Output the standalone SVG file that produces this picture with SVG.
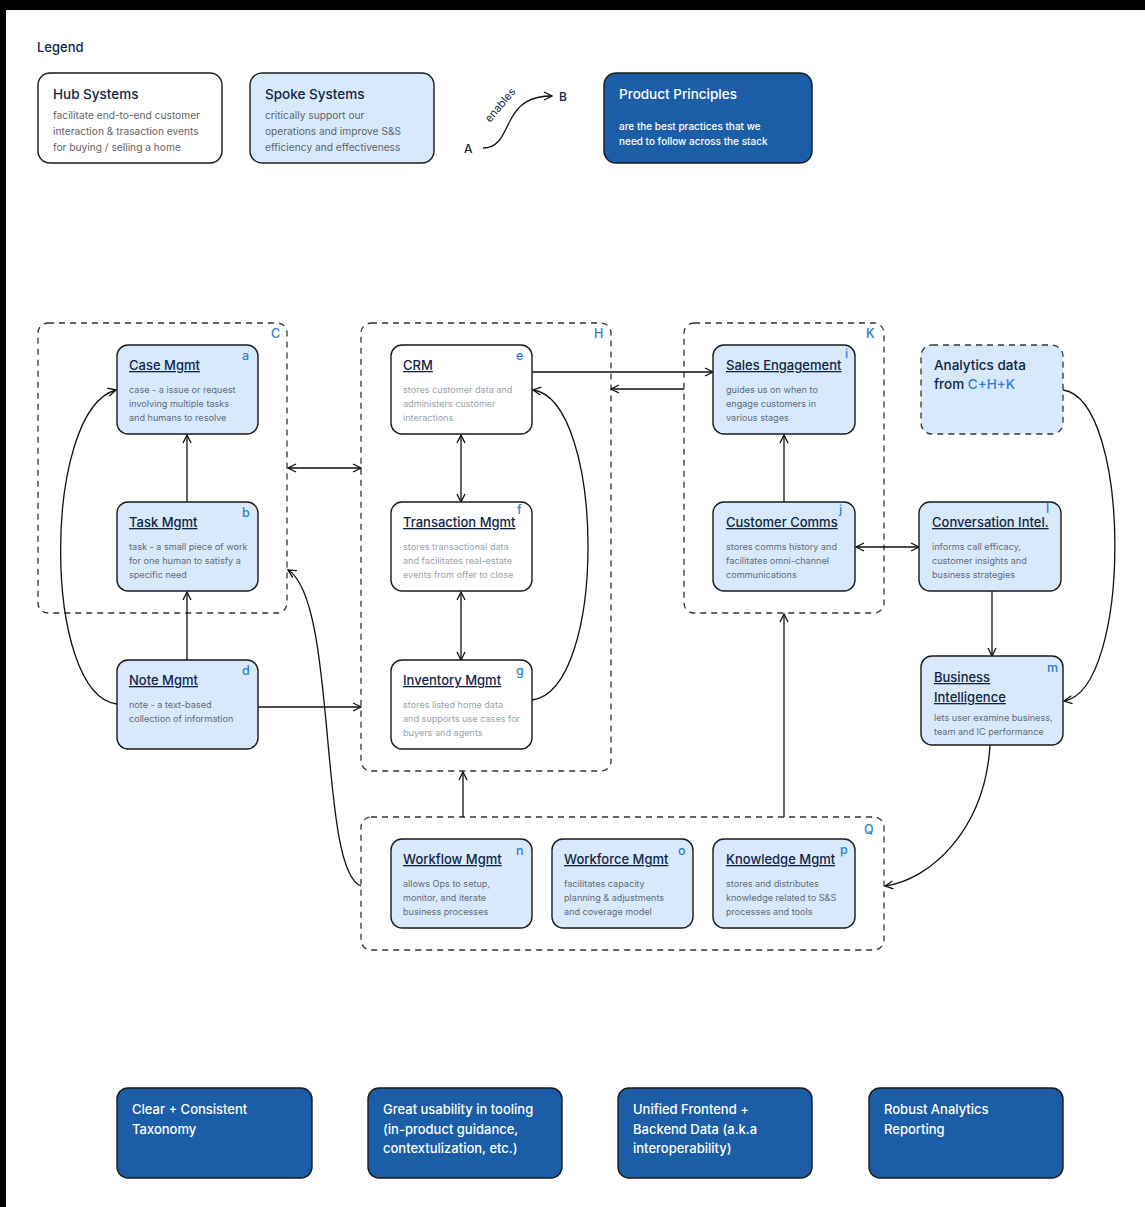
<svg xmlns="http://www.w3.org/2000/svg" width="1145" height="1207" viewBox="0 0 1145 1207">
<defs>
<style>
.t{font-family:Inter,"Noto Sans","Liberation Sans",sans-serif}
.ttl{font-size:13px;fill:#0f2547;font-weight:500;text-decoration:underline}
.ttln{font-size:13.5px;fill:#0f2547;font-weight:500}
.d{font-size:9.1px;fill:#5f6b7a}
.dh{font-size:9.1px;fill:#9aa3ad}
.ld{font-size:10.2px;fill:#5f6368}
.lt{font-size:13.5px;fill:#0f2547;font-weight:500}
.k{font-size:12.5px;fill:#2b7de0;font-weight:500}
.w{fill:#ffffff;font-weight:500}
.hub{fill:#ffffff;stroke:#1a1a1a;stroke-width:1.4}
.spk{fill:#d8e9fc;stroke:#1a1a1a;stroke-width:1.4}
.pp{fill:#1b5ea7;stroke:#1a1a1a;stroke-width:1.4}
.cl{fill:none;stroke:#333;stroke-width:1.3;stroke-dasharray:6 5}
.c{fill:none;stroke:#111;stroke-width:1.3}
</style>
<marker id="ah" viewBox="0 0 10 10" refX="9" refY="5" markerWidth="10" markerHeight="10" markerUnits="userSpaceOnUse" orient="auto-start-reverse">
<path d="M1,1 L9,5 L1,9" fill="none" stroke="#111" stroke-width="1.3"/>
</marker>
</defs>
<rect x="0" y="0" width="1145" height="1207" fill="#ffffff"/>
<rect x="0" y="0" width="1145" height="10" fill="#000"/>
<rect x="0" y="0" width="6" height="1207" fill="#000"/>

<g id="legend">
<text class="t" x="37" y="52" font-size="13" fill="#0f2547" font-weight="500">Legend</text>
<g id="legend-hub">
<rect class="hub" x="38" y="73" width="184" height="90" rx="12"/>
<text class="t lt" x="53" y="99">Hub Systems</text>
<text class="t ld" x="53" y="119">facilitate end-to-end customer</text>
<text class="t ld" x="53" y="135">interaction &amp; trasaction events</text>
<text class="t ld" x="53" y="151">for buying / selling a home</text>
</g>
<g id="legend-spoke">
<rect class="spk" x="250" y="73" width="184" height="90" rx="12"/>
<text class="t lt" x="265" y="99">Spoke Systems</text>
<text class="t ld" x="265" y="119">critically support our</text>
<text class="t ld" x="265" y="135">operations and improve S&amp;S</text>
<text class="t ld" x="265" y="151">efficiency and effectiveness</text>
</g>
<g id="legend-arrow">
<text class="t" x="464" y="153" font-size="12" fill="#0f2547" font-weight="500">A</text>
<text class="t" x="559" y="101" font-size="12" fill="#0f2547" font-weight="500">B</text>
<path class="c" d="M483,148 C500,148 504,132 511,119 C519,104 530,96 552,96" marker-end="url(#ah)"/>
<text class="t" x="0" y="0" font-size="11" fill="#0f2547" transform="translate(490,123) rotate(-50)">enables</text>
</g>
<g id="legend-principles">
<rect class="pp" x="604" y="73" width="208" height="90" rx="12"/>
<text class="t w" x="619" y="99" font-size="13.5">Product Principles</text>
<text class="t w" x="619" y="130" font-size="10">are the best practices that we</text>
<text class="t w" x="619" y="145" font-size="10">need to follow across the stack</text>
</g>
</g>

<g id="clusters">
<g id="cluster-C"><rect class="cl" x="38" y="323" width="249" height="290" rx="10"/><text class="t k" x="271" y="338">C</text></g>
<g id="cluster-H"><rect class="cl" x="361" y="323" width="250" height="448" rx="10"/><text class="t k" x="594" y="338">H</text></g>
<g id="cluster-K"><rect class="cl" x="684" y="323" width="200" height="290" rx="10"/><text class="t k" x="866" y="338">K</text></g>
<g id="cluster-Q"><rect class="cl" x="361" y="817" width="523" height="133" rx="10"/><text class="t k" x="864" y="834">Q</text></g>
</g>

<g id="connectors">
<path class="c" d="M187,502 V435" marker-end="url(#ah)"/>
<path class="c" d="M187,660 V592" marker-end="url(#ah)"/>
<path class="c" d="M117,704 C42,695 42,410 116,390" marker-end="url(#ah)"/>
<path class="c" d="M258,707 H361" marker-end="url(#ah)"/>
<path class="c" d="M288,468 H361" marker-start="url(#ah)" marker-end="url(#ah)"/>
<path class="c" d="M361,886 C318,870 338,600 288,570" marker-end="url(#ah)"/>
<path class="c" d="M461,435 V502" marker-start="url(#ah)" marker-end="url(#ah)"/>
<path class="c" d="M461,592 V660" marker-start="url(#ah)" marker-end="url(#ah)"/>
<path class="c" d="M532,700 C608,690 605,400 533,390" marker-end="url(#ah)"/>
<path class="c" d="M532,372 H713" marker-end="url(#ah)"/>
<path class="c" d="M684,389 H611" marker-end="url(#ah)"/>
<path class="c" d="M784,502 V435" marker-end="url(#ah)"/>
<path class="c" d="M856,547 H919" marker-start="url(#ah)" marker-end="url(#ah)"/>
<path class="c" d="M992,591 V656" marker-end="url(#ah)"/>
<path class="c" d="M1063,390 C1132,400 1132,690 1064,701" marker-end="url(#ah)"/>
<path class="c" d="M990,745 C985,830 930,880 885,886" marker-end="url(#ah)"/>
<path class="c" d="M463,817 V772" marker-end="url(#ah)"/>
<path class="c" d="M784,817 V614" marker-end="url(#ah)"/>
</g>

<g id="node-case"><rect class="spk" x="117" y="345" width="141" height="89" rx="11"/><text class="t k" x="242" y="360">a</text><text class="t ttl" x="129" y="370">Case Mgmt</text><text class="t d" x="129" y="393">case - a issue or request</text><text class="t d" x="129" y="407">involving multiple tasks</text><text class="t d" x="129" y="421">and humans to resolve</text></g>
<g id="node-task"><rect class="spk" x="117" y="502" width="141" height="89" rx="11"/><text class="t k" x="242" y="517">b</text><text class="t ttl" x="129" y="527">Task Mgmt</text><text class="t d" x="129" y="550">task - a small piece of work</text><text class="t d" x="129" y="564">for one human to satisfy a</text><text class="t d" x="129" y="578">specific need</text></g>
<g id="node-note"><rect class="spk" x="117" y="660" width="141" height="89" rx="11"/><text class="t k" x="242" y="675">d</text><text class="t ttl" x="129" y="685">Note Mgmt</text><text class="t d" x="129" y="708">note - a text-based</text><text class="t d" x="129" y="722">collection of information</text></g>

<g id="node-crm"><rect class="hub" x="391" y="345" width="141" height="89" rx="11"/><text class="t k" x="516" y="360">e</text><text class="t ttl" x="403" y="370">CRM</text><text class="t dh" x="403" y="393">stores customer data and</text><text class="t dh" x="403" y="407">administers customer</text><text class="t dh" x="403" y="421">interactions</text></g>
<g id="node-transaction"><rect class="hub" x="391" y="502" width="141" height="89" rx="11"/><text class="t k" x="517" y="514" font-size="12">f</text><text class="t ttl" x="403" y="527">Transaction Mgmt</text><text class="t dh" x="403" y="550">stores transactional data</text><text class="t dh" x="403" y="564">and facilitates real-estate</text><text class="t dh" x="403" y="578">events from offer to close</text></g>
<g id="node-inventory"><rect class="hub" x="391" y="660" width="141" height="89" rx="11"/><text class="t k" x="516" y="675">g</text><text class="t ttl" x="403" y="685">Inventory Mgmt</text><text class="t dh" x="403" y="708">stores listed home data</text><text class="t dh" x="403" y="722">and supports use cases for</text><text class="t dh" x="403" y="736">buyers and agents</text></g>

<g id="node-sales"><rect class="spk" x="713" y="345" width="142" height="89" rx="11"/><text class="t k" x="845" y="358" font-size="12">i</text><text class="t ttl" x="726" y="370">Sales Engagement</text><text class="t d" x="726" y="393">guides us on when to</text><text class="t d" x="726" y="407">engage customers in</text><text class="t d" x="726" y="421">various stages</text></g>
<g id="node-comms"><rect class="spk" x="713" y="502" width="142" height="89" rx="11"/><text class="t k" x="839" y="514" font-size="12">j</text><text class="t ttl" x="726" y="527">Customer Comms</text><text class="t d" x="726" y="550">stores comms history and</text><text class="t d" x="726" y="564">facilitates omni-channel</text><text class="t d" x="726" y="578">communications</text></g>

<g id="node-analytics"><rect x="921" y="345" width="142" height="89" rx="11" fill="#d8e9fc" stroke="#333" stroke-width="1.3" stroke-dasharray="6 5"/><text class="t ttln" x="934" y="370">Analytics data</text><text class="t ttln" x="934" y="389">from <tspan fill="#2b7de0">C+H+K</tspan></text></g>
<g id="node-convintel"><rect class="spk" x="919" y="502" width="142" height="89" rx="11"/><text class="t k" x="1046" y="513" font-size="12">l</text><text class="t ttl" x="932" y="527">Conversation Intel.</text><text class="t d" x="932" y="550">informs call efficacy,</text><text class="t d" x="932" y="564">customer insights and</text><text class="t d" x="932" y="578">business strategies</text></g>
<g id="node-bi"><rect class="spk" x="921" y="656" width="142" height="89" rx="11"/><text class="t k" x="1047" y="672">m</text><text class="t ttl" x="934" y="682">Business</text><text class="t ttl" x="934" y="702">Intelligence</text><text class="t d" x="934" y="721">lets user examine business,</text><text class="t d" x="934" y="735">team and IC performance</text></g>

<g id="node-workflow"><rect class="spk" x="391" y="839" width="141" height="89" rx="11"/><text class="t k" x="516" y="855">n</text><text class="t ttl" x="403" y="864">Workflow Mgmt</text><text class="t d" x="403" y="887">allows Ops to setup,</text><text class="t d" x="403" y="901">monitor, and iterate</text><text class="t d" x="403" y="915">business processes</text></g>
<g id="node-workforce"><rect class="spk" x="552" y="839" width="141" height="89" rx="11"/><text class="t k" x="678" y="855">o</text><text class="t ttl" x="564" y="864">Workforce Mgmt</text><text class="t d" x="564" y="887">facilitates capacity</text><text class="t d" x="564" y="901">planning &amp; adjustments</text><text class="t d" x="564" y="915">and coverage model</text></g>
<g id="node-knowledge"><rect class="spk" x="713" y="839" width="142" height="89" rx="11"/><text class="t k" x="840" y="854">p</text><text class="t ttl" x="726" y="864">Knowledge Mgmt</text><text class="t d" x="726" y="887">stores and distributes</text><text class="t d" x="726" y="901">knowledge related to S&amp;S</text><text class="t d" x="726" y="915">processes and tools</text></g>

<g id="principle-1"><rect class="pp" x="117" y="1088" width="195" height="90" rx="11"/><text class="t w" x="132" y="1114" font-size="13">Clear + Consistent</text><text class="t w" x="132" y="1134" font-size="13">Taxonomy</text></g>
<g id="principle-2"><rect class="pp" x="368" y="1088" width="194" height="90" rx="11"/><text class="t w" x="383" y="1114" font-size="13">Great usability in tooling</text><text class="t w" x="383" y="1134" font-size="13">(in-product guidance,</text><text class="t w" x="383" y="1153" font-size="13">contextulization, etc.)</text></g>
<g id="principle-3"><rect class="pp" x="618" y="1088" width="194" height="90" rx="11"/><text class="t w" x="633" y="1114" font-size="13">Unified Frontend +</text><text class="t w" x="633" y="1134" font-size="13">Backend Data (a.k.a</text><text class="t w" x="633" y="1153" font-size="13">interoperability)</text></g>
<g id="principle-4"><rect class="pp" x="869" y="1088" width="194" height="90" rx="11"/><text class="t w" x="884" y="1114" font-size="13">Robust Analytics</text><text class="t w" x="884" y="1134" font-size="13">Reporting</text></g>
</svg>
